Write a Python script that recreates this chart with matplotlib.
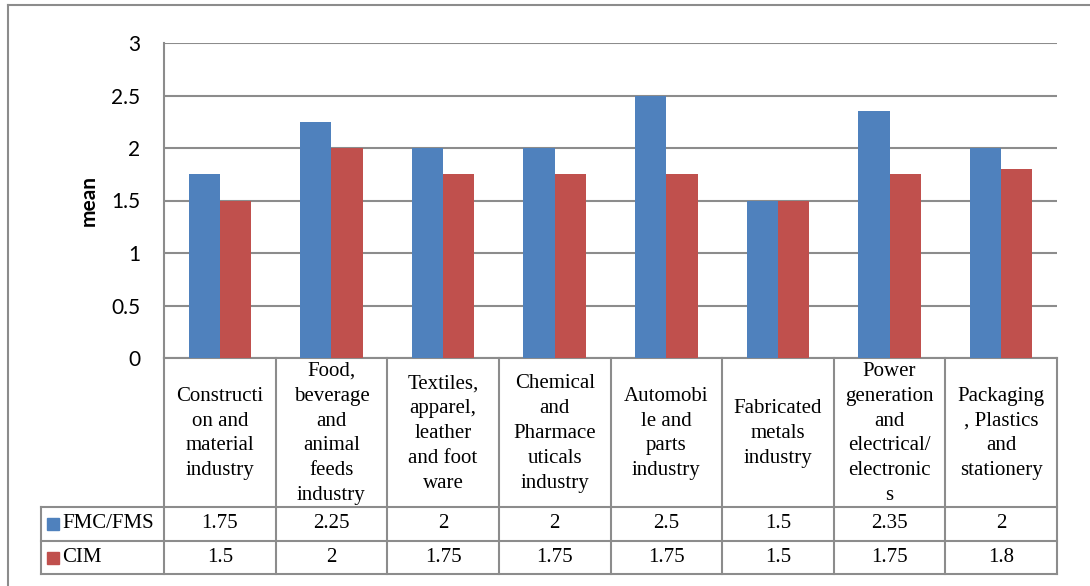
import matplotlib
matplotlib.use("Agg")
import matplotlib.pyplot as plt
import matplotlib.transforms as mtransforms
from matplotlib.lines import Line2D
import numpy as np

categories = [
    "Constructi\non and\nmaterial\nindustry",
    "Food,\nbeverage\nand\nanimal\nfeeds\nindustry",
    "Textiles,\napparel,\nleather\nand foot\nware",
    "Chemical\nand\nPharmace\nuticals\nindustry",
    "Automobi\nle and\nparts\nindustry",
    "Fabricated\nmetals\nindustry",
    "Power\ngeneration\nand\nelectrical/\nelectronic\ns",
    "Packaging\n, Plastics\nand\nstationery",
]
fmc_fms = [1.75, 2.25, 2, 2, 2.5, 1.5, 2.35, 2]
cim = [1.5, 2, 1.75, 1.75, 1.75, 1.5, 1.75, 1.8]
series_names = ["FMC/FMS", "CIM"]
yticks = [0, 0.5, 1, 1.5, 2, 2.5, 3]
ytick_labels = ["0", "0.5", "1", "1.5", "2", "2.5", "3"]

BLUE = "#4F81BD"
RED = "#C0504D"
GRID = "#8c8c8c"

W, H = 1090, 586
fig = plt.figure(figsize=(W / 100, H / 100), dpi=100)

# plot area in pixels (from top-left)
px_l, px_r, px_t, px_b = 164, 1057, 43, 358
ax = fig.add_axes([px_l / W, (H - px_b) / H, (px_r - px_l) / W, (px_b - px_t) / H])

# outer chart frame (left and top edges only visible)
fig.add_artist(Line2D([8 / W, 8 / W], [0, (H - 5) / H], transform=fig.transFigure,
                      color=GRID, lw=1.5))
fig.add_artist(Line2D([8 / W, 1], [(H - 5) / H, (H - 5) / H], transform=fig.transFigure,
                      color=GRID, lw=1.5))

x = np.arange(len(categories))
bw = 0.28
ax.bar(x - bw / 2, fmc_fms, bw, color=BLUE, zorder=3)
ax.bar(x + bw / 2, cim, bw, color=RED, zorder=3)

ax.set_xlim(-0.5, len(categories) - 0.5)
ax.set_ylim(0, 3)
ax.set_yticks(yticks)
ax.set_yticklabels(ytick_labels, fontfamily="Lato", fontsize=15)
ax.tick_params(axis="y", length=0, pad=17)
ax.set_xticks([])
ax.grid(axis="y", color=GRID, lw=1.5, zorder=0)
for s in ["top", "right"]:
    ax.spines[s].set_visible(False)
ax.spines["left"].set_color(GRID)
ax.spines["left"].set_linewidth(1.5)
ax.spines["bottom"].set_color(GRID)
ax.spines["bottom"].set_linewidth(1.5)
ax.set_ylabel("mean", fontfamily="Lato", fontweight="bold", fontsize=15, labelpad=9)

# data table below the plot
def ay(py):
    return (px_b - py) / (px_b - px_t)

trans = mtransforms.blended_transform_factory(ax.transData, ax.transAxes)
row_tops = [px_b, 507, 541, 574]
left_px = 41
left_data = -0.5 - (px_l - left_px) / (px_r - px_l) * len(categories)

lkw = dict(color=GRID, lw=1.5, clip_on=False, transform=trans)
# vertical lines
for b in np.arange(len(categories) + 1) - 0.5:
    ax.plot([b, b], [ay(px_b), ay(row_tops[-1])], **lkw)
ax.plot([left_data, left_data], [ay(row_tops[1]), ay(row_tops[-1])], **lkw)
# horizontal lines
for py in row_tops[1:]:
    ax.plot([left_data, len(categories) - 0.5], [ay(py), ay(py)], **lkw)

serif = "Liberation Serif"
fs = 15
hdr_y = ay((row_tops[0] + row_tops[1]) / 2 + 1)
for i, lab in enumerate(categories):
    ax.text(i, hdr_y, lab, transform=trans, ha="center", va="center",
            fontfamily=serif, fontsize=fs, linespacing=1.42)

for r, (vals, name, col) in enumerate(zip([fmc_fms, cim], series_names, [BLUE, RED])):
    yc = ay((row_tops[r + 1] + row_tops[r + 2]) / 2)
    for i, v in enumerate(vals):
        ax.text(i, yc, f"{v:g}", transform=trans, ha="center", va="center",
                fontfamily=serif, fontsize=fs)
    kx = (48 + 58) / 2
    fig.add_artist(Line2D([kx / W], [1 - (row_tops[r + 1] + row_tops[r + 2]) / 2 / H],
                          marker="s", markersize=8, color=col, lw=0,
                          transform=fig.transFigure))
    fig.text(62 / W, 1 - (row_tops[r + 1] + row_tops[r + 2]) / 2 / H, name,
             ha="left", va="center", fontfamily=serif, fontsize=fs)

fig.savefig("out.png", dpi=100)
